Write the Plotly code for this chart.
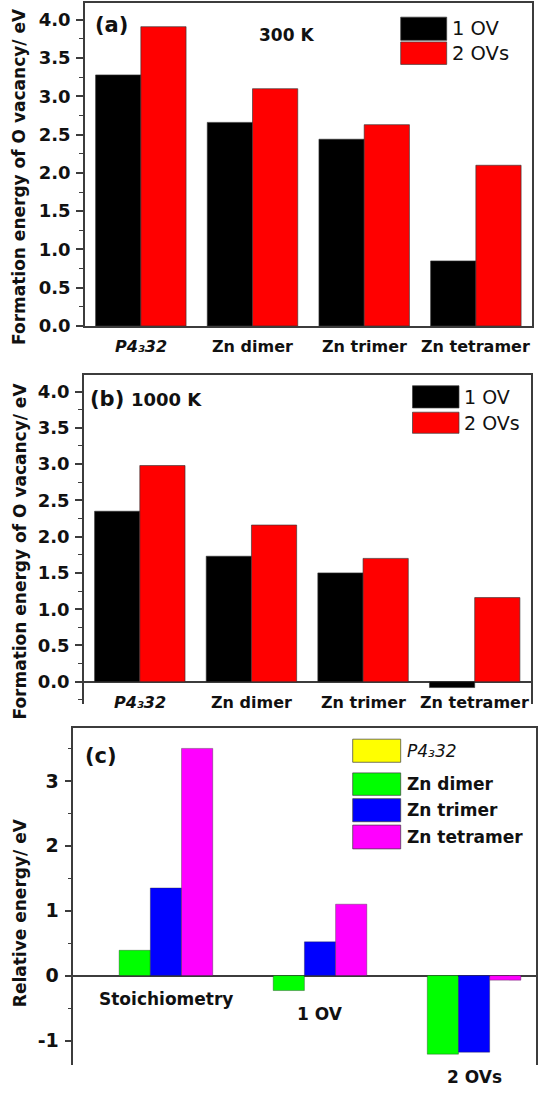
import plotly.graph_objects as go

W, H = 539, 1095
FONT = "DejaVu Sans"
AX = "#3c3c3c"
TXT = "#111111"

# ---- (a)/(b): O-vacancy formation energies -------------------------------
structures = ["P4₃32", "Zn dimer", "Zn trimer", "Zn tetramer"]
structure_labels = ["<i>P4₃32</i>", "Zn dimer", "Zn trimer", "Zn tetramer"]

vacancy_series = ["1 OV", "2 OVs"]
vacancy_colors = ["#000000", "#ff0000"]

e300_1ov = [3.28, 2.66, 2.44, 0.85]
e300_2ov = [3.91, 3.10, 2.63, 2.10]
e1000_1ov = [2.35, 1.73, 1.50, -0.08]
e1000_2ov = [2.98, 2.16, 1.70, 1.16]

# ---- (c): relative energies ----------------------------------------------
states = ["Stoichiometry", "1 OV", "2 OVs"]
phase_series = ["P4₃32", "Zn dimer", "Zn trimer", "Zn tetramer"]
phase_labels = ["<i>P4₃32</i>", "<b>Zn dimer</b>", "<b>Zn trimer</b>", "<b>Zn tetramer</b>"]
phase_colors = ["#ffff00", "#00ff00", "#0000ff", "#ff00ff"]

rel_p4332 = [0.0, 0.0, 0.0]
rel_dimer = [0.39, -0.23, -1.21]
rel_trimer = [1.35, 0.52, -1.18]
rel_tetramer = [3.50, 1.10, -0.07]


def fx(px):
    return px / W


def fy(py):
    return 1 - py / H


fig = go.Figure()

# bars of panels (a) and (b)
for axis_id, pair in (("", (e300_1ov, e300_2ov)), ("2", (e1000_1ov, e1000_2ov))):
    for name, color, vals in zip(vacancy_series, vacancy_colors, pair):
        fig.add_trace(go.Bar(
            x=structures, y=vals, name=name,
            marker=dict(color=color, line=dict(color="rgba(50,50,50,0.8)", width=0.8)),
            xaxis="x" + axis_id, yaxis="y" + axis_id, showlegend=False,
        ))

# bars of panel (c)
for name, color, vals in zip(phase_series, phase_colors,
                             (rel_p4332, rel_dimer, rel_trimer, rel_tetramer)):
    fig.add_trace(go.Bar(
        x=states, y=vals, name=name,
        marker=dict(color=color,
                    line=dict(color="rgba(40,40,40,0.6)", width=0 if name == "P4₃32" else 0.6)),
        xaxis="x3", yaxis="y3", showlegend=False,
    ))

tickfont = dict(family=FONT, size=18, color=TXT, weight="bold")
minor_base = dict(ticks="outside", ticklen=4, tickwidth=1.2, tickcolor=AX, showgrid=False)


def yaxis_style(**kw):
    d = dict(showline=True, mirror=True, linecolor=AX, linewidth=1.5,
             ticks="outside", ticklen=7, tickwidth=1.5, tickcolor=AX,
             showgrid=False, tickfont=tickfont, ticklabelstandoff=2)
    d.update(kw)
    return d


dom_a = dict(x=[fx(85), fx(531.7)], y=[fy(329), fy(3)])
dom_b = dict(x=[fx(84), fx(530.5)], y=[fy(710), fy(378.3)])
dom_c = dict(x=[fx(73.3), fx(535.5)], y=[fy(1075), fy(735)])

fig.update_layout(
    width=W, height=H,
    margin=dict(l=0, r=0, t=0, b=0),
    paper_bgcolor="white", plot_bgcolor="white",
    barmode="group", bargap=0.19, bargroupgap=0,
    font=dict(family=FONT, color=TXT),
    xaxis=dict(domain=dom_a["x"], anchor="y", range=[-0.5, 3.5], showline=True, mirror=True,
               linecolor=AX, linewidth=1.5, ticks="", showticklabels=False, showgrid=False),
    yaxis=yaxis_style(domain=dom_a["y"], anchor="x", range=[0, 4.22], tick0=0, dtick=0.5,
                      tickformat=".1f", zeroline=False, minor=dict(dtick=0.25, **minor_base)),
    xaxis2=dict(domain=dom_b["x"], anchor="y2", side="top", range=[-0.5, 3.5], showline=True,
                linecolor=AX, linewidth=1.5, ticks="", showticklabels=False, showgrid=False),
    yaxis2=yaxis_style(domain=dom_b["y"], anchor="x2", range=[-0.30, 4.23], tick0=0, dtick=0.5,
                       tickformat=".1f", zeroline=True, zerolinecolor=AX, zerolinewidth=1.5,
                       minor=dict(dtick=0.25, **minor_base)),
    xaxis3=dict(domain=dom_c["x"], anchor="y3", side="top", range=[-0.5, 2.5], showline=True,
                linecolor=AX, linewidth=1.5, ticks="", showticklabels=False, showgrid=False),
    yaxis3=yaxis_style(domain=dom_c["y"], anchor="x3", range=[-1.38, 3.81],
                       tickmode="array", tickvals=[-1, 0, 1, 2, 3],
                       ticktext=["-1", "0", "1", "2", "3"],
                       tickfont=dict(family=FONT, size=19, color=TXT, weight="bold"),
                       zeroline=True, zerolinecolor=AX, zerolinewidth=1.5,
                       minor=dict(tick0=0, dtick=0.5, **minor_base)),
)

ann = []

# category labels under the zero line in (a) and (b)
for xref, yref in (("x", "y"), ("x2", "y2")):
    for cat, lab in zip(structures, structure_labels):
        ann.append(dict(x=cat, y=0, xref=xref, yref=yref, text="<b>" + lab + "</b>",
                        showarrow=False, yanchor="middle", yshift=-21,
                        font=dict(family=FONT, size=16, color=TXT)))

# state labels in (c), placed just under the lowest bar of each group
bar_w = (1 - 0.19) / len(phase_series)
for i, st in enumerate(states):
    low = min(0, rel_dimer[i], rel_trimer[i], rel_tetramer[i])
    ann.append(dict(x=i + bar_w / 2, y=low, xref="x3", yref="y3", text="<b>" + st + "</b>",
                    showarrow=False, yanchor="middle", yshift=-23,
                    font=dict(family=FONT, size=17, color=TXT)))

# y-axis titles
for ytxt, ycen in (("Formation energy of O vacancy/ eV", 178),
                   ("Formation energy of O vacancy/ eV", 556),
                   ("Relative energy/ eV", 921)):
    ann.append(dict(x=fx(19.6), y=fy(ycen), xref="paper", yref="paper", text="<b>" + ytxt + "</b>",
                    textangle=-90, showarrow=False, xanchor="center", yanchor="middle",
                    font=dict(family=FONT, size=17, color=TXT)))

# panel tags and temperatures
for txt, xc, yc, size in (("(a)", 111, 25, 21), ("(b)", 106.5, 403, 21), ("(c)", 100.5, 763, 21)):
    ann.append(dict(x=fx(xc), y=fy(yc), xref="paper", yref="paper", text="<b>" + txt + "</b>",
                    showarrow=False, xanchor="center", yanchor="middle",
                    font=dict(family=FONT, size=size, color=TXT)))
for txt, xc, yc, size in (("300 K", 286, 35, 17), ("1000 K", 166.7, 403.3, 18)):
    ann.append(dict(x=fx(xc), y=fy(yc), xref="paper", yref="paper", text="<b>" + txt + "</b>",
                    showarrow=False, xanchor="center", yanchor="middle",
                    font=dict(family=FONT, size=size, color=TXT)))

shapes = []


def legend_block(x0, x1, rows, text_x, labels, colors, fsize):
    for (y0, y1), lab, col in zip(rows, labels, colors):
        shapes.append(dict(type="rect", xref="paper", yref="paper",
                           x0=fx(x0), x1=fx(x1), y0=fy(y1), y1=fy(y0),
                           fillcolor=col, line=dict(color="rgba(60,60,60,0.7)", width=1)))
        ann.append(dict(x=fx(text_x), y=fy((y0 + y1) / 2), xref="paper", yref="paper", text=lab,
                        showarrow=False, xanchor="left", yanchor="middle",
                        font=dict(family=FONT, size=fsize, color=TXT)))


legend_block(400.7, 446.7, [(17.3, 40.7), (42.3, 65)], 449.5, vacancy_series, vacancy_colors, 19.5)
legend_block(412.5, 459, [(389.3, 411.7), (416, 437.3)], 462, vacancy_series, vacancy_colors, 19)
legend_block(352.7, 400.7, [(746, 769.3), (780, 802.7), (806, 829.3), (832.7, 856.7)], 405,
             phase_labels, phase_colors, 17)

fig.update_layout(annotations=ann, shapes=shapes)

fig.write_html("out.html")
